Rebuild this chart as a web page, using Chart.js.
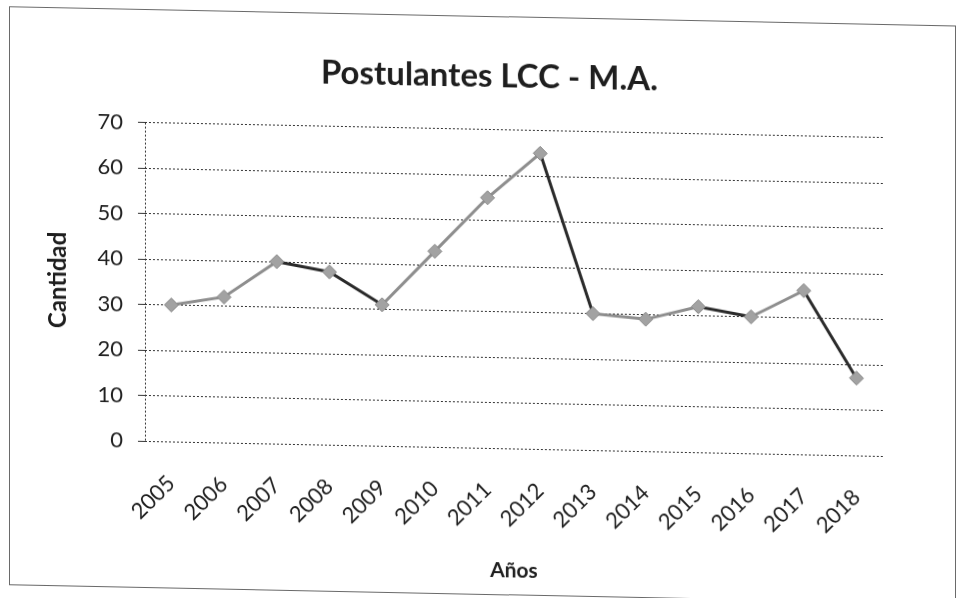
<!DOCTYPE html>
<html>
<head>
<meta charset="utf-8">
<script src="https://cdn.jsdelivr.net/npm/chart.js@4/dist/chart.umd.min.js"></script>
<style>
    html, body { margin: 0; padding: 0; background: #fff; overflow: hidden; }
    /* the original is a slightly skewed scan */
    #wrap { position: absolute; left: 0; top: 0; width: 959px; height: 598px; transform: skewY(1.17deg); transform-origin: 148px 0; }
    #frame { position: absolute; left: 9px; top: 9px; width: 945px; height: 577px; border: 1px solid #6a6a6a; }
    #mainChart { position: absolute; left: 0; top: 0; }
</style>
</head>
<body>
<div id="wrap">
    <div id="frame"></div>
    <canvas id="mainChart" width="959" height="598"></canvas>
</div>
<script>
const years = ['2005', '2006', '2007', '2008', '2009', '2010', '2011', '2012', '2013', '2014', '2015', '2016', '2017', '2018'];
const postulantes = [30, 32, 40, 38, 31, 43, 55, 65, 30, 29, 32, 30, 36, 17];
const yTicks = [0, 10, 20, 30, 40, 50, 60, 70];

const font = "Lato, 'Open Sans', sans-serif";
const gridDots = '#333';

// falling segments come out darker in the original
const segColor = (ctx) => (ctx.p0.parsed.y - ctx.p1.parsed.y > 1.5 ? '#2a2a2a' : '#8e8e8e');

const ctx = document.getElementById('mainChart').getContext('2d');
const myChart = new Chart(ctx, {
    type: 'line',
    data: {
        labels: years,
        datasets: [{
            label: 'Postulantes',
            data: postulantes,
            borderColor: '#8e8e8e',
            borderWidth: 3,
            pointStyle: 'rectRot',
            pointRadius: 7,
            pointBackgroundColor: '#a2a2a2',
            pointBorderColor: '#8a8a8a',
            pointBorderWidth: 1,
            tension: 0,
            segment: { borderColor: segColor }
        }]
    },
    options: {
        responsive: false,
        animation: false,
        layout: { padding: { left: 20, right: 0, top: 0, bottom: 0 } },
        plugins: {
            legend: { display: false },
            tooltip: { enabled: false },
            title: {
                display: true,
                text: 'Postulantes LCC - M.A.',
                color: '#1e1e1e',
                font: { family: font, size: 33, weight: 'bold' },
                padding: { top: 50, bottom: 33 }
            }
        },
        scales: {
            x: {
                offset: true,
                grid: {
                    offset: true,
                    drawTicks: false,
                    color: (c) => (c.index === 0 ? gridDots : 'transparent')
                },
                border: { display: false, dash: [2, 2] },
                ticks: {
                    color: '#1e1e1e',
                    font: { family: font, size: 22 },
                    maxRotation: 45,
                    minRotation: 45,
                    padding: 29
                },
                title: {
                    display: true,
                    text: 'Años',
                    color: '#1e1e1e',
                    font: { family: font, size: 21, weight: 'bold' },
                    padding: { top: 0, bottom: 22 }
                },
                afterFit: (scale) => { scale.height = 157; }
            },
            y: {
                min: 0,
                max: 70,
                afterBuildTicks: (scale) => { scale.ticks = yTicks.map(v => ({ value: v })); },
                grid: { color: gridDots, lineWidth: 1, drawTicks: true, tickLength: 7 },
                border: { display: false, dash: [2, 2] },
                ticks: {
                    color: '#1e1e1e',
                    font: { family: font, size: 22 },
                    padding: 15
                },
                title: {
                    display: true,
                    text: 'Cantidad',
                    color: '#1e1e1e',
                    font: { family: font, size: 24, weight: 'bold' },
                    padding: { top: 24, bottom: 0 }
                },
                afterFit: (scale) => { scale.width = 125; }
            },
            // empty box on the right so the title sits where it does in the original
            yRight: {
                position: 'right',
                display: true,
                grid: { display: false, drawTicks: false },
                border: { display: false },
                ticks: { display: false },
                afterFit: (scale) => { scale.width = 76; }
            }
        }
    }
});
</script>
</body>
</html>
